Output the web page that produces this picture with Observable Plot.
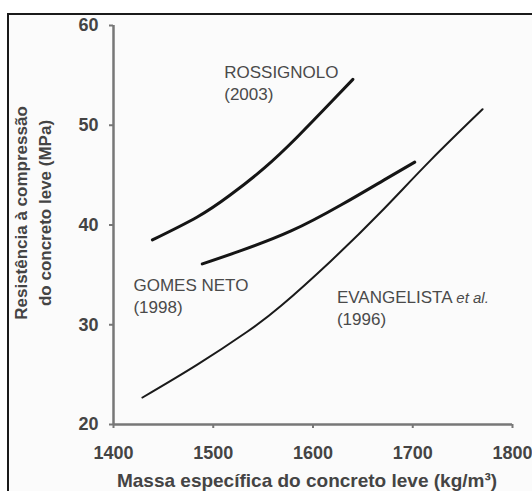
<!DOCTYPE html>
<html>
<head>
<meta charset="utf-8">
<script src="https://cdn.jsdelivr.net/npm/d3@7"></script>
<script src="https://cdn.jsdelivr.net/npm/@observablehq/plot@0.6"></script>
<style>
  html, body { margin: 0; padding: 0; background: #fff; }
  #wrap { position: relative; width: 532px; height: 491px; overflow: hidden; }
  #frame { position: absolute; left: 7px; top: 13px; width: 600px; height: 600px;
           border-top: 2px solid #1a1a1a; border-left: 2px solid #1a1a1a; background: #fbfbfb; }
  #chart { position: absolute; left: 0; top: 0; }
</style>
</head>
<body>
<div id="wrap"><div id="frame"></div><div id="chart"></div></div>
<script>
// Compressive strength vs. density of lightweight concrete, three published curves
const rossignoloX = [1439, 1484, 1517, 1551, 1584, 1618, 1640];
const rossignoloY = [38.5, 40.8, 43.0, 45.7, 48.8, 52.3, 54.6];

const gomesNetoX = [1489, 1527, 1578, 1628, 1671, 1702];
const gomesNetoY = [36.1, 37.4, 39.4, 42.0, 44.5, 46.3];

const evangelistaX = [1429, 1484, 1534, 1568, 1618, 1668, 1718, 1770];
const evangelistaY = [22.7, 26.0, 29.3, 31.9, 36.4, 41.3, 46.5, 51.6];

const xTicks = [1400, 1500, 1600, 1700, 1800];
const yTicks = [20, 30, 40, 50, 60];

const curveNames = ["ROSSIGNOLO\n(2003)", "GOMES NETO\n(1998)", "EVANGELISTA et al.\n(1996)"];
const curveLabelX = [1511, 1420, 1624];
const curveLabelY = [54.3, 33.0, 31.8];

const xTitle = "Massa específica do concreto leve (kg/m³)";
const yTitle = "Resistência à compressão\ndo concreto leve (MPa)";

const toPoints = (xs, ys) => xs.map((x, i) => ({x, y: ys[i]}));
const labels = curveNames.map((name, i) => ({name, x: curveLabelX[i], y: curveLabelY[i]}));

const font = "Liberation Sans, Arial, sans-serif";

const chart = Plot.plot({
  width: 532,
  height: 491,
  marginLeft: 113,
  marginRight: 20,
  marginTop: 25,
  marginBottom: 67,
  style: {background: "transparent", fontFamily: font, overflow: "visible"},
  x: {domain: [1400, 1800]},
  y: {domain: [20, 60]},
  marks: [
    Plot.axisX({ticks: xTicks, tickSize: 4, tickPadding: 18, stroke: "#777", strokeWidth: 2,
      fill: "#444", fontSize: 18, fontWeight: "bold", fontFamily: font, label: null, tickFormat: d => String(d)}),
    Plot.axisY({ticks: yTicks, tickSize: 4, tickPadding: 11, stroke: "#777", strokeWidth: 2,
      fill: "#444", fontSize: 18, fontWeight: "bold", fontFamily: font, label: null}),
    Plot.ruleY([20], {stroke: "#777", strokeWidth: 2.5}),
    Plot.ruleX([1400], {stroke: "#777", strokeWidth: 2.5}),
    Plot.line(toPoints(rossignoloX, rossignoloY), {x: "x", y: "y", curve: "natural", stroke: "#151515", strokeWidth: 3}),
    Plot.line(toPoints(gomesNetoX, gomesNetoY), {x: "x", y: "y", curve: "natural", stroke: "#151515", strokeWidth: 3}),
    Plot.line(toPoints(evangelistaX, evangelistaY), {x: "x", y: "y", curve: "natural", stroke: "#1a1a1a", strokeWidth: 2}),
    Plot.text(labels, {x: "x", y: "y", text: "name", textAnchor: "start", lineAnchor: "middle",
      lineHeight: 1.3, fontSize: 17, fill: "#4a4a4a", fontFamily: font}),
    Plot.text([xTitle], {frameAnchor: "bottom", dx: -6, dy: 56, lineAnchor: "middle",
      fontSize: 19, fontWeight: "bold", fill: "#444", fontFamily: font}),
    Plot.text([yTitle], {frameAnchor: "left", rotate: -90, dx: -82, dy: -12, textAnchor: "middle", lineAnchor: "middle",
      lineHeight: 1.4, fontSize: 17, fontWeight: "bold", fill: "#444", fontFamily: font})
  ]
});

// italic "et al." inside the EVANGELISTA label
d3.select(chart).selectAll("tspan").each(function () {
  const t = d3.select(this);
  if (t.text() === "EVANGELISTA et al.") {
    t.text("EVANGELISTA ");
    t.append("tspan").attr("font-style", "italic").attr("font-size", 15).text("et al.");
  }
});

document.getElementById("chart").appendChild(chart);
</script>
</body>
</html>
